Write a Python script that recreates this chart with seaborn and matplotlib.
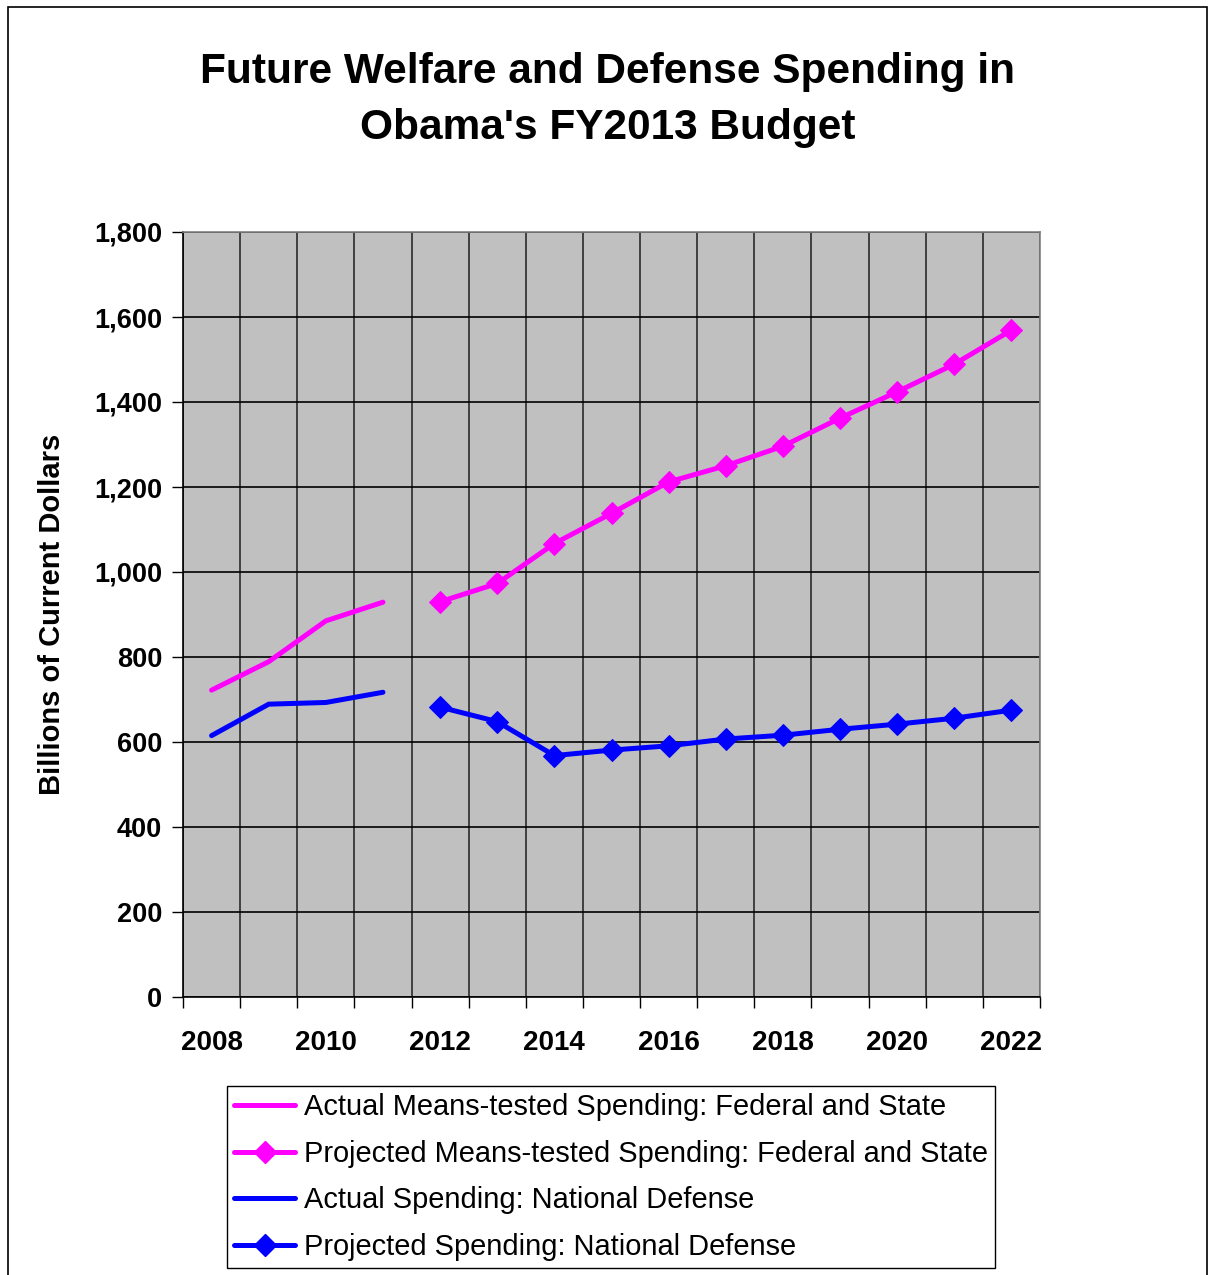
import matplotlib
matplotlib.use("Agg")
import matplotlib.pyplot as plt
import seaborn as sns
import pandas as pd
from matplotlib.patches import Rectangle
from matplotlib.lines import Line2D
from matplotlib.ticker import FixedLocator, FuncFormatter

# Years and spending (billions of current dollars)
years_actual = [2008, 2009, 2010, 2011]
years_projected = [2012, 2013, 2014, 2015, 2016, 2017, 2018, 2019, 2020, 2021, 2022]

welfare_actual = [722, 789, 885, 929]
welfare_projected = [930, 973, 1067, 1138, 1212, 1250, 1296, 1362, 1424, 1489, 1569]
defense_actual = [615, 689, 693, 717]
defense_projected = [682, 648, 568, 581, 591, 607, 616, 630, 642, 656, 675]

all_years = list(range(2008, 2023))
tick_years = [2008, 2010, 2012, 2014, 2016, 2018, 2020, 2022]

labels = [
    "Actual Means-tested Spending: Federal and State",
    "Projected Means-tested Spending: Federal and State",
    "Actual Spending: National Defense",
    "Projected Spending: National Defense",
]

MAGENTA = "#FF00FF"
BLUE = "#0000FF"

sns.set_style("white")
plt.rcParams["font.family"] = ["Liberation Sans", "DejaVu Sans"]
plt.rcParams["text.color"] = "black"
plt.rcParams["axes.labelcolor"] = "black"
plt.rcParams["xtick.color"] = "black"
plt.rcParams["ytick.color"] = "black"

fig = plt.figure(figsize=(12.09, 12.75), dpi=100)
ax = fig.add_axes([183 / 1209, 1 - 997 / 1275, (1040 - 183) / 1209, (997 - 232) / 1275])
ax.set_facecolor("#C0C0C0")

pos = {y: i for i, y in enumerate(all_years)}

df_wa = pd.DataFrame({"x": [pos[y] for y in years_actual], "v": welfare_actual})
df_wp = pd.DataFrame({"x": [pos[y] for y in years_projected], "v": welfare_projected})
df_da = pd.DataFrame({"x": [pos[y] for y in years_actual], "v": defense_actual})
df_dp = pd.DataFrame({"x": [pos[y] for y in years_projected], "v": defense_projected})

lw = 3.6
ms = 11.5
sns.lineplot(data=df_wa, x="x", y="v", ax=ax, color=MAGENTA, linewidth=lw, zorder=5)
sns.lineplot(data=df_wp, x="x", y="v", ax=ax, color=MAGENTA, linewidth=lw,
             marker="D", markersize=ms, markeredgecolor=MAGENTA, zorder=5)
sns.lineplot(data=df_da, x="x", y="v", ax=ax, color=BLUE, linewidth=lw, zorder=5)
sns.lineplot(data=df_dp, x="x", y="v", ax=ax, color=BLUE, linewidth=lw,
             marker="D", markersize=ms, markeredgecolor=BLUE, zorder=5)

ax.set_xlim(-0.5, len(all_years) - 0.5)
ax.set_ylim(0, 1800)
ax.set_xlabel("")
ax.set_ylabel("Billions of Current Dollars", fontsize=21, fontweight="bold", labelpad=20)

# y axis: gridlines every 200
ax.set_yticks(range(0, 1801, 200))
ax.yaxis.set_major_formatter(FuncFormatter(lambda v, p: f"{int(v):,}"))
ax.tick_params(axis="y", direction="out", length=8, width=1, color="black",
               labelsize=19.5, pad=7, left=True)
for lab in ax.get_yticklabels():
    lab.set_fontweight("bold")
ax.yaxis.grid(True, color="black", linewidth=1.2)

# x axis: ticks and vertical gridlines at category boundaries, labels at centers
bounds = [i - 0.5 for i in range(len(all_years) + 1)]
ax.xaxis.set_major_locator(FixedLocator(bounds))
ax.xaxis.set_major_formatter(FuncFormatter(lambda v, p: ""))
ax.xaxis.set_minor_locator(FixedLocator([pos[y] for y in tick_years]))
ax.xaxis.set_minor_formatter(FuncFormatter(lambda v, p: str(all_years[int(round(v))])))
ax.tick_params(axis="x", which="major", direction="out", length=8, width=1,
               color="black", bottom=True)
ax.tick_params(axis="x", which="minor", length=0, labelsize=20, pad=24)
for lab in ax.xaxis.get_minorticklabels():
    lab.set_fontweight("bold")
ax.xaxis.grid(True, which="major", color="#404040", linewidth=1.4)
ax.set_axisbelow(True)

for side in ["top", "right"]:
    ax.spines[side].set_color("#808080")
    ax.spines[side].set_linewidth(1.2)
for side in ["left", "bottom"]:
    ax.spines[side].set_color("black")
    ax.spines[side].set_linewidth(1.2)

fig.text(608 / 1209, 1 - 100 / 1275,
         "Future Welfare and Defense Spending in\nObama's FY2013 Budget",
         ha="center", va="center", fontsize=30.5, fontweight="bold", linespacing=1.5)

handles = [
    Line2D([], [], color=MAGENTA, linewidth=lw),
    Line2D([], [], color=MAGENTA, linewidth=lw, marker="D", markersize=ms),
    Line2D([], [], color=BLUE, linewidth=lw),
    Line2D([], [], color=BLUE, linewidth=lw, marker="D", markersize=ms),
]
leg = fig.legend(handles, labels, loc="upper center",
                 bbox_to_anchor=(611 / 1209, 1 - 1086 / 1275),
                 fontsize=20.9, frameon=True, fancybox=False, framealpha=1,
                 edgecolor="black", handlelength=2.1, handletextpad=0.3,
                 labelspacing=0.64, borderpad=0.25, borderaxespad=0)
leg.get_frame().set_linewidth(1.0)

# figure border
fig.patches.append(Rectangle((8 / 1209, -0.01), (1207 - 8) / 1209, 1.01 - 7 / 1275,
                             transform=fig.transFigure, fill=False,
                             edgecolor="black", linewidth=1.2))

fig.savefig("out.png", dpi=100)
